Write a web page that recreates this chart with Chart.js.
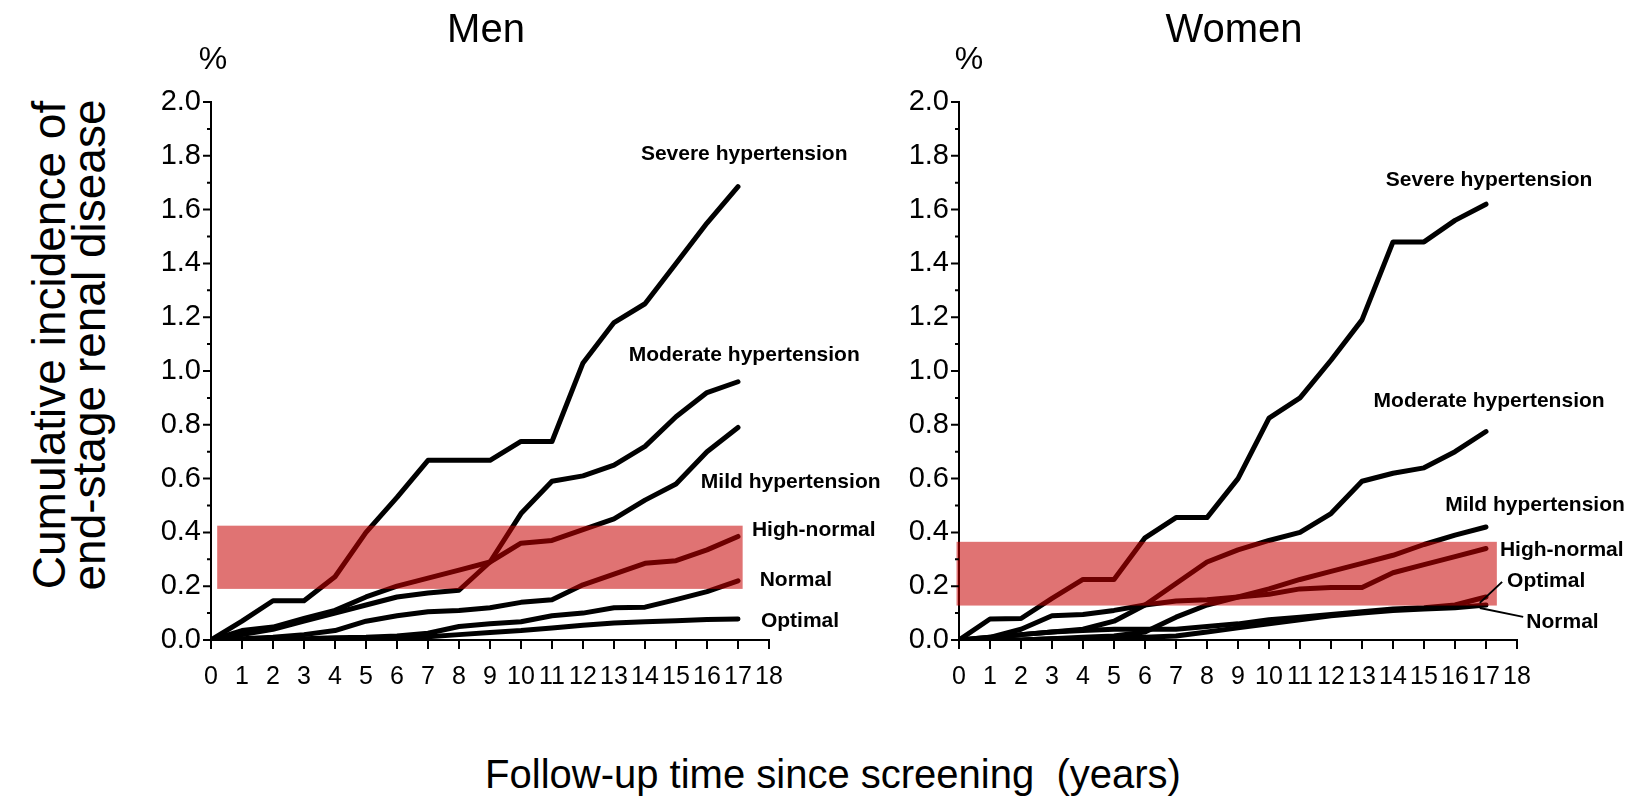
<!DOCTYPE html>
<html>
<head>
<meta charset="utf-8">
<title>Cumulative incidence of ESRD</title>
<script src="https://cdn.jsdelivr.net/npm/chart.js@4"></script>
<style>
  body { margin: 0; background: #fff; width: 1633px; height: 796px; overflow: hidden; position: relative;
         font-family: "Liberation Sans", Arial, sans-serif; color: #000; }
  canvas { position: absolute; top: 0; }
  #men { left: 140px; }
  #women { left: 888px; }
  #ytitle { position: absolute; left: 69px; top: 345px; transform: translate(-50%, -50%) rotate(-90deg);
            font-size: 46px; line-height: 40px; text-align: center; white-space: nowrap; }
  #xtitle { position: absolute; left: 833px; top: 774px; transform: translate(-50%, -50%);
            font-size: 40px; white-space: nowrap; }
</style>
</head>
<body>
<div id="ytitle">Cumulative incidence of<br>end-stage renal disease</div>
<canvas id="men" width="745" height="700"></canvas>
<canvas id="women" width="745" height="700"></canvas>
<div id="xtitle">Follow-up time since screening&nbsp; (years)</div>

<script>
// follow-up years
const years = [0, 1, 2, 3, 4, 5, 6, 7, 8, 9, 10, 11, 12, 13, 14, 15, 16, 17];

// cumulative incidence (%) - men
const menSevere     = [0, 0.07, 0.146, 0.146, 0.235, 0.40, 0.53, 0.668, 0.668, 0.668, 0.738, 0.738, 1.03, 1.18, 1.25, 1.40, 1.55, 1.685];
const menModerate   = [0, 0.02, 0.04, 0.07, 0.10, 0.13, 0.16, 0.175, 0.185, 0.29, 0.47, 0.59, 0.61, 0.65, 0.72, 0.83, 0.92, 0.96];
const menMild       = [0, 0.035, 0.048, 0.08, 0.11, 0.16, 0.20, 0.23, 0.26, 0.29, 0.36, 0.37, 0.41, 0.45, 0.52, 0.58, 0.70, 0.79];
const menHighNormal = [0, 0.005, 0.01, 0.02, 0.035, 0.07, 0.09, 0.105, 0.11, 0.12, 0.14, 0.15, 0.205, 0.245, 0.285, 0.295, 0.335, 0.385];
const menNormal     = [0, 0, 0.002, 0.005, 0.008, 0.01, 0.015, 0.025, 0.05, 0.06, 0.068, 0.09, 0.10, 0.12, 0.122, 0.15, 0.18, 0.22];
const menOptimal    = [0, 0, 0, 0.002, 0.004, 0.006, 0.008, 0.012, 0.02, 0.028, 0.035, 0.045, 0.055, 0.063, 0.068, 0.072, 0.076, 0.078];

// cumulative incidence (%) - women
const womenSevere     = [0, 0.078, 0.08, 0.155, 0.225, 0.225, 0.38, 0.455, 0.455, 0.60, 0.825, 0.90, 1.04, 1.19, 1.48, 1.48, 1.56, 1.62];
const womenModerate   = [0, 0.01, 0.02, 0.03, 0.04, 0.07, 0.13, 0.21, 0.29, 0.335, 0.37, 0.40, 0.47, 0.59, 0.62, 0.64, 0.70, 0.775];
const womenMild       = [0, 0, 0, 0.005, 0.01, 0.015, 0.03, 0.085, 0.13, 0.16, 0.19, 0.225, 0.255, 0.285, 0.315, 0.355, 0.39, 0.42];
const womenHighNormal = [0, 0.01, 0.04, 0.09, 0.095, 0.11, 0.13, 0.145, 0.15, 0.16, 0.17, 0.19, 0.195, 0.195, 0.25, 0.28, 0.31, 0.34];
const womenOptimal    = [0, 0.005, 0.02, 0.03, 0.035, 0.04, 0.04, 0.04, 0.05, 0.06, 0.075, 0.085, 0.095, 0.105, 0.115, 0.12, 0.13, 0.16];
const womenNormal     = [0, 0, 0, 0.005, 0.005, 0.01, 0.01, 0.015, 0.03, 0.045, 0.06, 0.075, 0.09, 0.10, 0.11, 0.115, 0.12, 0.13];

const categories = ['Severe hypertension', 'Moderate hypertension', 'Mild hypertension', 'High-normal', 'Normal', 'Optimal'];

// highlighted band (years, %)
const menBand = [0.2, 17.15, 0.19, 0.425];
const womenBand = [-0.08, 17.35, 0.128, 0.365];

const narrow = '"Liberation Sans Narrow", "Liberation Sans", Arial, sans-serif';
const sans = '"Liberation Sans", Arial, sans-serif';

function toPoints(vals) {
    return vals.map((v, i) => ({x: years[i], y: v}));
}

// band, tick marks, panel title, "%" and the series labels
const panelPlugin = {
    id: 'panel',
    afterDatasetsDraw(chart, args, opts) {
        const {ctx, scales: {x, y}} = chart;
        const b = opts.band;
        const l = x.getPixelForValue(b[0]), r = x.getPixelForValue(b[1]);
        const t = y.getPixelForValue(b[3]), btm = y.getPixelForValue(b[2]);
        ctx.save();
        ctx.fillStyle = 'rgba(199, 0, 0, 0.55)';
        ctx.fillRect(l, t, r - l, btm - t);
        ctx.restore();
    },
    afterDraw(chart, args, opts) {
        const {ctx, chartArea, scales: {x, y}} = chart;
        ctx.save();
        ctx.strokeStyle = '#000';
        ctx.lineWidth = 2;
        ctx.beginPath();
        y.ticks.forEach(tk => {
            const py = y.getPixelForValue(tk.value);
            const major = Math.round(tk.value * 10) % 2 === 0;
            ctx.moveTo(chartArea.left, py);
            ctx.lineTo(chartArea.left - (major ? 8 : 4), py);
        });
        x.ticks.forEach(tk => {
            const px = x.getPixelForValue(tk.value);
            ctx.moveTo(px, chartArea.bottom);
            ctx.lineTo(px, chartArea.bottom + 9);
        });
        ctx.stroke();

        ctx.fillStyle = '#000';
        ctx.textBaseline = 'middle';
        ctx.textAlign = 'center';
        ctx.font = '40px ' + sans;
        ctx.fillText(opts.title, (chartArea.left + chartArea.right) / 2 - 4, 31);
        ctx.font = '32px ' + sans;
        ctx.fillText('%', chartArea.left + opts.pctOffset, 60);

        ctx.font = 'bold 21px ' + sans;
        opts.labels.forEach(lb => {
            ctx.textAlign = lb.align;
            ctx.fillText(lb.text, x.getPixelForValue(lb.x), y.getPixelForValue(lb.y));
        });

        ctx.beginPath();
        (opts.leaders || []).forEach(ld => {
            ctx.moveTo(x.getPixelForValue(ld[0]), y.getPixelForValue(ld[1]));
            ctx.lineTo(x.getPixelForValue(ld[2]), y.getPixelForValue(ld[3]));
        });
        ctx.stroke();
        ctx.restore();
    }
};

function makePanel(id, series, panelOpts) {
    const datasets = series.map((vals, i) => ({
        label: categories[i],
        data: toPoints(vals),
        borderColor: '#000',
        borderWidth: 5,
        borderJoinStyle: 'round',
        borderCapStyle: 'round',
        pointRadius: 0,
        tension: 0,
        fill: false
    }));

    return new Chart(document.getElementById(id), {
        type: 'line',
        data: {datasets: datasets},
        options: {
            responsive: false,
            animation: false,
            events: [],
            layout: {padding: {top: 102, right: 116, bottom: 0, left: 0}},
            plugins: {
                legend: {display: false},
                tooltip: {enabled: false},
                panel: panelOpts
            },
            scales: {
                x: {
                    type: 'linear',
                    min: 0,
                    max: 18,
                    afterFit: s => { s.height = 60; },
                    grid: {display: false, drawTicks: true, tickLength: 9},
                    border: {display: true, color: '#000', width: 2},
                    ticks: {
                        stepSize: 1,
                        autoSkip: false,
                        maxRotation: 0,
                        padding: 13,
                        color: '#000',
                        font: {family: narrow, size: 25},
                        callback: v => String(v)
                    }
                },
                y: {
                    min: 0,
                    max: 2,
                    afterFit: s => { s.width = 71; },
                    grid: {display: false, drawTicks: true, tickLength: 8},
                    border: {display: true, color: '#000', width: 2},
                    ticks: {
                        stepSize: 0.1,
                        autoSkip: false,
                        padding: 2,
                        color: '#000',
                        font: {family: narrow, size: 29},
                        callback: v => (Math.round(v * 10) % 2 === 0 ? v.toFixed(1) : '')
                    }
                }
            }
        },
        plugins: [panelPlugin]
    });
}

makePanel('men',
    [menSevere, menModerate, menMild, menHighNormal, menNormal, menOptimal],
    {
        title: 'Men',
        pctOffset: 2,
        band: menBand,
        labels: [
            {text: 'Severe hypertension', x: 17.2, y: 1.807, align: 'center'},
            {text: 'Moderate hypertension', x: 17.2, y: 1.06, align: 'center'},
            {text: 'Mild hypertension', x: 18.7, y: 0.587, align: 'center'},
            {text: 'High-normal', x: 17.45, y: 0.41, align: 'left'},
            {text: 'Normal', x: 17.7, y: 0.223, align: 'left'},
            {text: 'Optimal', x: 17.74, y: 0.07, align: 'left'}
        ]
    });

makePanel('women',
    [womenSevere, womenModerate, womenMild, womenHighNormal, womenNormal, womenOptimal],
    {
        title: 'Women',
        pctOffset: 10,
        band: womenBand,
        labels: [
            {text: 'Severe hypertension', x: 17.1, y: 1.71, align: 'center'},
            {text: 'Moderate hypertension', x: 17.1, y: 0.888, align: 'center'},
            {text: 'Mild hypertension', x: 18.58, y: 0.50, align: 'center'},
            {text: 'High-normal', x: 17.45, y: 0.335, align: 'left'},
            {text: 'Optimal', x: 17.68, y: 0.22, align: 'left'},
            {text: 'Normal', x: 18.3, y: 0.067, align: 'left'}
        ],
        leaders: [
            [16.8, 0.138, 17.52, 0.216],
            [16.8, 0.119, 18.2, 0.086]
        ]
    });
</script>
</body>
</html>
